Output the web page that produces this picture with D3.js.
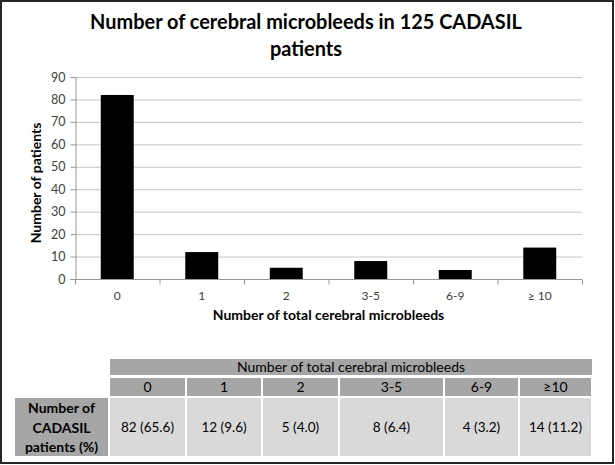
<!DOCTYPE html>
<html>
<head>
<meta charset="utf-8">
<script src="https://cdn.jsdelivr.net/npm/d3@7"></script>
<style>
  html, body { margin: 0; padding: 0; background: #fff; }
  svg { display: block; font-family: Lato, "Open Sans", sans-serif; }
</style>
</head>
<body>
<svg id="chart" width="615" height="465"></svg>
<script>
// ---- data ----
const categories = ["0", "1", "2", "3-5", "6-9", "\u2265 10"];
const patients = [82, 12, 5, 8, 4, 14];
const yTicks = [0, 10, 20, 30, 40, 50, 60, 70, 80, 90];
const tableCategories = ["0", "1", "2", "3-5", "6-9", "\u226510"];
const tableCells = ["82 (65.6)", "12 (9.6)", "5 (4.0)", "8 (6.4)", "4 (3.2)", "14 (11.2)"];
const titleLines = ["Number of cerebral microbleeds in 125 CADASIL", "patients"];
const xTitle = "Number of total cerebral microbleeds";
const yTitle = "Number of patients";
const tableHeader = "Number of total cerebral microbleeds";
const rowHeaderLines = ["Number of", "CADASIL", "patients (%)"];

// ---- layout ----
const svg = d3.select("#chart");
const plot = { left: 75, right: 582, top: 77, bottom: 279 };
const colEdges = [110, 186, 262, 339, 444, 519, 592];

const x = d3.scaleBand().domain(categories).range([plot.left, plot.right])
  .paddingInner(0.61).paddingOuter(0.305);
const xStep = d3.scaleBand().domain(categories).range([plot.left, plot.right]).padding(0);
const y = d3.scaleLinear().domain([0, 90]).range([plot.bottom, plot.top]);

// outer border
svg.append("rect").attr("x", 1).attr("y", 1).attr("width", 612).attr("height", 462)
  .attr("fill", "none").attr("stroke", "#262626").attr("stroke-width", 2);

// title
function fit(sel, target) {
  const n = sel.node();
  let fs = parseFloat(sel.attr("font-size"));
  const w = n.getComputedTextLength();
  sel.attr("font-size", (fs * target / w).toFixed(2));
}
const t1 = svg.append("text").attr("x", 306).attr("y", 29).attr("text-anchor", "middle")
  .attr("font-weight", "bold").attr("font-size", 19).attr("fill", "#000").text(titleLines[0]);
fit(t1, 432);
svg.append("text").attr("x", 306).attr("y", 56).attr("text-anchor", "middle")
  .attr("font-weight", "bold").attr("font-size", t1.attr("font-size")).attr("fill", "#000").text(titleLines[1]);

// gridlines
svg.append("g").selectAll("line").data(yTicks.filter(d => d > 0)).join("line")
  .attr("x1", plot.left).attr("x2", plot.right)
  .attr("y1", d => y(d) + 0.5).attr("y2", d => y(d) + 0.5)
  .attr("stroke", "#c6c6c6").attr("stroke-width", 1);

// y axis
const yAxis = svg.append("g").attr("transform", `translate(${plot.left + 0.5},0)`)
  .call(d3.axisLeft(y).tickValues(yTicks).tickSize(5).tickPadding(5));
yAxis.select(".domain").attr("stroke", "#969696");
yAxis.selectAll(".tick line").attr("stroke", "#969696");
yAxis.selectAll(".tick text").attr("font-size", 12.5).attr("fill", "#404040")
  .attr("font-family", "Lato, sans-serif");

// bars
svg.append("g").selectAll("rect").data(patients).join("rect")
  .attr("x", (d, i) => x(categories[i]))
  .attr("width", x.bandwidth())
  .attr("y", d => y(d))
  .attr("height", d => y(0) - y(d))
  .attr("fill", "#000");

// x axis
const xAxisG = svg.append("g").attr("transform", `translate(0,${plot.bottom + 0.5})`);
xAxisG.append("line").attr("x1", plot.left).attr("x2", plot.right)
  .attr("stroke", "#969696");
const bounds = categories.map(c => xStep(c)).concat([plot.right]);
xAxisG.selectAll("line.tk").data(bounds).join("line").attr("class", "tk")
  .attr("x1", d => d + 0.5).attr("x2", d => d + 0.5).attr("y1", 0).attr("y2", 5)
  .attr("stroke", "#969696");
xAxisG.selectAll("text").data(categories).join("text")
  .attr("x", d => x(d) + x.bandwidth() / 2).attr("y", 20)
  .attr("text-anchor", "middle").attr("font-size", 12).attr("fill", "#404040")
  .text(d => d);

// axis titles
svg.append("text").attr("x", (plot.left + plot.right) / 2).attr("y", 320)
  .attr("text-anchor", "middle").attr("font-weight", "bold").attr("font-size", 14)
  .attr("fill", "#000").text(xTitle);
svg.append("text").attr("transform", "translate(41,183) rotate(-90)")
  .attr("text-anchor", "middle").attr("font-weight", "bold").attr("font-size", 14)
  .attr("fill", "#000").text(yTitle);

// ---- table ----
const tbl = svg.append("g");
const hdrFill = "#a6a6a6", cellFill = "#d9d9d9";
tbl.append("rect").attr("x", colEdges[0]).attr("y", 359)
  .attr("width", colEdges[6] - colEdges[0]).attr("height", 16).attr("fill", hdrFill);
tbl.append("text").attr("x", (colEdges[0] + colEdges[6]) / 2).attr("y", 372)
  .attr("text-anchor", "middle").attr("font-size", 14).attr("fill", "#000").text(tableHeader);

tableCategories.forEach((c, i) => {
  const x0 = colEdges[i] + (i > 0 ? 1 : 0), x1 = colEdges[i + 1] - 1;
  tbl.append("rect").attr("x", x0).attr("y", 378).attr("width", x1 - x0).attr("height", 18)
    .attr("fill", hdrFill);
  tbl.append("text").attr("x", (x0 + x1) / 2).attr("y", 392).attr("text-anchor", "middle")
    .attr("font-size", 14).attr("fill", "#000").text(c);
  tbl.append("rect").attr("x", x0).attr("y", 398).attr("width", x1 - x0).attr("height", 58)
    .attr("fill", cellFill);
  tbl.append("text").attr("x", (x0 + x1) / 2).attr("y", 432).attr("text-anchor", "middle")
    .attr("font-size", 13.5).attr("fill", "#000").text(tableCells[i]);
});

tbl.append("rect").attr("x", 15).attr("y", 398).attr("width", 93).attr("height", 58)
  .attr("fill", hdrFill);
rowHeaderLines.forEach((l, i) => {
  tbl.append("text").attr("x", 61.5).attr("y", 413 + i * 19.5).attr("text-anchor", "middle")
    .attr("font-weight", "bold").attr("font-size", 14).attr("fill", "#000").text(l);
});
</script>
</body>
</html>
